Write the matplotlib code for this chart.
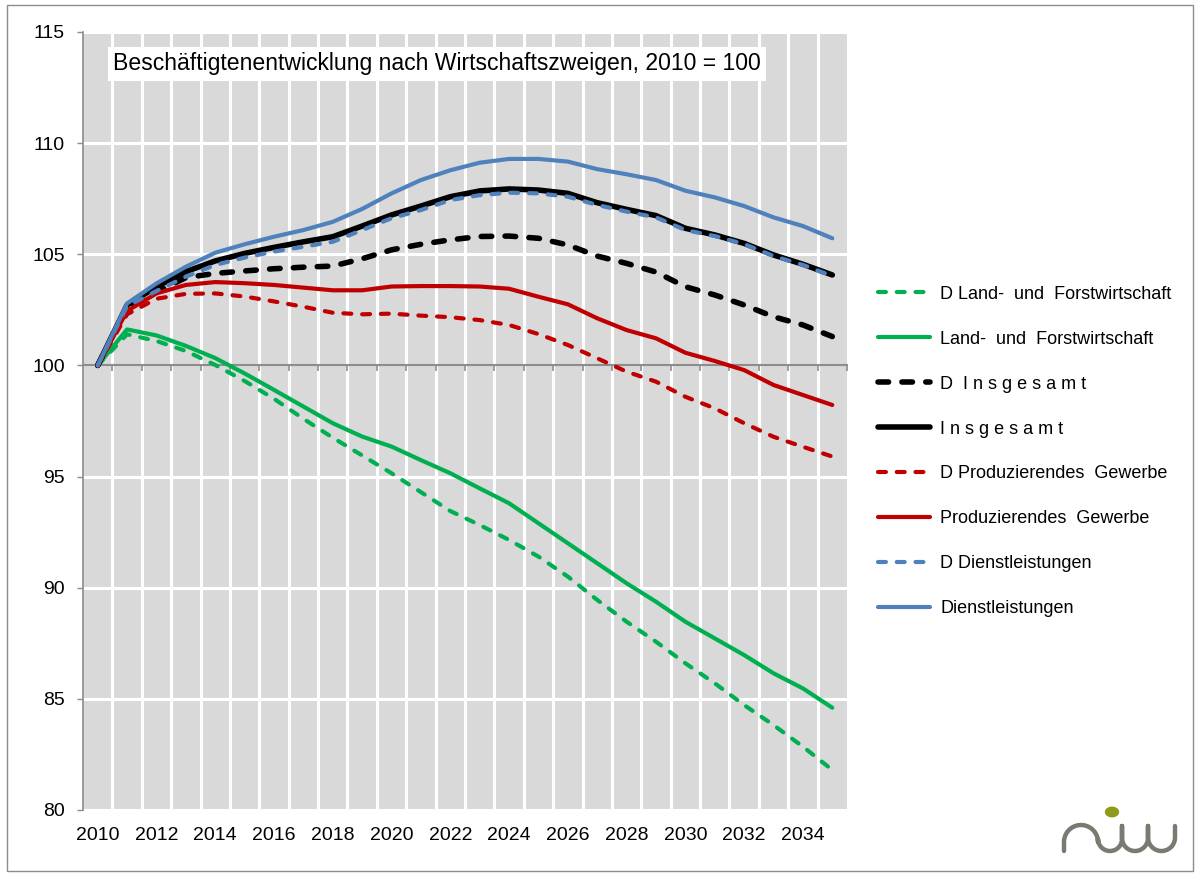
import numpy as np
import matplotlib.pyplot as plt
from matplotlib.lines import Line2D
from matplotlib.patches import Rectangle, Circle

plt.rcParams['font.family'] = ['Liberation Sans', 'DejaVu Sans']

# Beschäftigte je Wirtschaftszweig, Index 2010 = 100
years = list(range(2010, 2036))

d_land = [100, 101.4, 101.1, 100.65, 100.02, 99.3, 98.5, 97.6, 96.75, 95.95, 95.15,
          94.3, 93.45, 92.82, 92.15, 91.4, 90.5, 89.45, 88.47, 87.57, 86.6, 85.7,
          84.72, 83.82, 82.85, 81.8]
land = [100, 101.62, 101.35, 100.88, 100.33, 99.64, 98.9, 98.15, 97.4, 96.8, 96.35,
        95.74, 95.15, 94.47, 93.8, 92.9, 92.0, 91.1, 90.2, 89.37, 88.47, 87.72,
        86.97, 86.15, 85.47, 84.6]
d_insg = [100, 102.6, 103.3, 103.95, 104.14, 104.25, 104.35, 104.42, 104.47, 104.8,
          105.2, 105.45, 105.65, 105.8, 105.82, 105.72, 105.42, 104.92, 104.59, 104.2,
          103.54, 103.17, 102.72, 102.19, 101.82, 101.3]
insg = [100, 102.72, 103.54, 104.22, 104.7, 105.04, 105.31, 105.56, 105.79, 106.27,
        106.77, 107.17, 107.59, 107.85, 107.94, 107.89, 107.74, 107.32, 107.02, 106.74,
        106.17, 105.87, 105.49, 104.97, 104.55, 104.07]
d_prod = [100, 102.3, 103.0, 103.22, 103.24, 103.1, 102.88, 102.64, 102.37, 102.3,
          102.33, 102.24, 102.17, 102.04, 101.82, 101.41, 100.92, 100.32, 99.72, 99.27,
          98.59, 98.07, 97.4, 96.79, 96.34, 95.9]
prod = [100, 102.45, 103.24, 103.62, 103.75, 103.7, 103.62, 103.5, 103.38, 103.38,
        103.55, 103.57, 103.57, 103.55, 103.45, 103.09, 102.75, 102.12, 101.59, 101.22,
        100.57, 100.2, 99.79, 99.12, 98.67, 98.22]
d_dienst = [100, 102.67, 103.35, 103.99, 104.52, 104.85, 105.12, 105.34, 105.56, 106.09,
            106.62, 106.99, 107.44, 107.66, 107.77, 107.74, 107.59, 107.22, 106.92, 106.66,
            106.09, 105.82, 105.46, 104.92, 104.52, 104.02]
dienst = [100, 102.79, 103.69, 104.44, 105.07, 105.45, 105.79, 106.09, 106.46, 107.04,
          107.74, 108.34, 108.78, 109.12, 109.29, 109.29, 109.17, 108.83, 108.6, 108.34,
          107.86, 107.56, 107.17, 106.66, 106.27, 105.72]

labels = ["D Land-  und  Forstwirtschaft", "Land-  und  Forstwirtschaft",
          "D  I n s g e s a m t", "I n s g e s a m t",
          "D Produzierendes  Gewerbe", "Produzierendes  Gewerbe",
          "D Dienstleistungen", "Dienstleistungen"]
series = [d_land, land, d_insg, insg, d_prod, prod, d_dienst, dienst]
colors = ['#00B050', '#00B050', '#000000', '#000000',
          '#C00000', '#C00000', '#4F81BD', '#4F81BD']

fig = plt.figure(figsize=(11.99, 8.76), dpi=100)
ax = fig.add_axes([83 / 1199, 1 - 810 / 876, 764 / 1199, 778 / 876])
ax.set_facecolor('#D9D9D9')

for i, (vals, lab, col) in enumerate(zip(series, labels, colors)):
    dashed = (i % 2 == 0)
    lw = 4.0 if col == '#000000' else 3.0
    kw = dict(color=col, lw=lw, label=lab, solid_capstyle='round',
              dash_capstyle='round', zorder=3 + i)
    if dashed:
        kw['dashes'] = (1.9, 2.4) if col == '#000000' else (1.9, 2.6)
    ax.plot(years, vals, **kw)

ax.set_xlim(2009.5, 2035.5)
ax.set_ylim(80, 115)
ax.set_yticks(np.arange(80, 116, 5))

# white grid: horizontal at the value ticks, vertical between the years
for yv in np.arange(80, 116, 5):
    if yv != 100:
        ax.axhline(yv, color='white', lw=2.2, zorder=1)
for xb in np.arange(2010.5, 2035.5, 1):
    ax.axvline(xb, color='white', lw=2.2, zorder=1)

# category axis crossing at 100
for s in ['top', 'right']:
    ax.spines[s].set_visible(False)
ax.spines['bottom'].set_position(('data', 100))
ax.spines['bottom'].set_color('#8C8C8C')
ax.spines['bottom'].set_linewidth(1.5)
ax.spines['bottom'].set_zorder(2)
ax.spines['left'].set_color('#8C8C8C')
ax.spines['left'].set_linewidth(1.2)
ax.set_xticks(np.arange(2010.5, 2035.6, 1))
ax.tick_params(axis='x', length=4, width=1.2, color='#8C8C8C', labelbottom=False)
ax.tick_params(axis='y', length=4, width=1.0, color='#8C8C8C', pad=9,
               labelsize=14)

sec = ax.secondary_xaxis('bottom')
sec.set_xticks(list(range(2010, 2035, 2)))
sec.set_xticklabels([str(y) for y in range(2010, 2035, 2)])
sec.tick_params(length=0, pad=12, labelsize=14)
sec.spines['bottom'].set_visible(False)

ax.text(0.0395, 0.959,
        "Beschäftigtenentwicklung nach Wirtschaftszweigen, 2010 = 100",
        transform=ax.transAxes, fontsize=16.6, va='center', ha='left', zorder=20,
        bbox=dict(facecolor='white', edgecolor='none', pad=4))

leg = fig.legend(loc='center left', bbox_to_anchor=(878 / 1199, 1 - 451.5 / 876),
                 frameon=False, fontsize=13, handlelength=2.9, handletextpad=0.55,
                 labelspacing=1.55, borderpad=0, borderaxespad=0)

# niw logo in the lower right corner (pixel coordinates, y downwards)
W, H = 1199.0, 876.0
base = 851.0

def arc(cx, cy, r, cap):
    t = np.linspace(np.pi, 0, 30)
    xs = cx + r * np.cos(t)
    ys = cy - r * np.sin(t) if cap else cy + r * np.sin(t)
    return list(xs), list(ys)

px, py = [1064.0], [base]
xs, ys = arc(1081, 842, 17, True); px += xs; py += ys
for cx, r in [(1110, 12), (1135, 13), (1161.5, 13.5)]:
    cy = base - r
    px += [cx - r]; py += [cy]
    xs, ys = arc(cx, cy, r, False); px += xs; py += ys
    px += [cx + r]; py += [826.0]
fig.add_artist(Line2D(np.array(px) / W, 1 - np.array(py) / H, color='#7A7A70',
                      lw=3.2, solid_capstyle='round', solid_joinstyle='round',
                      transform=fig.transFigure))
fig.add_artist(Circle((1112 / W, 1 - 812 / H), 6.5 / W, color='#8F9A1C',
                      transform=fig.transFigure))

fig.add_artist(Rectangle((7 / W, 1 - 871 / H), 1186 / W, 866 / H, fill=False,
                         edgecolor='#8C8C8C', lw=1.0, transform=fig.transFigure))

fig.savefig('out.png', dpi=100)
